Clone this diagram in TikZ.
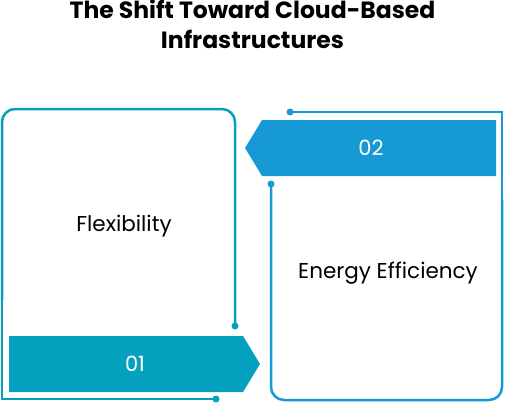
\documentclass[tikz,border=0pt]{standalone}
\usepackage{fontspec}
\setmainfont{Poppins}
\usetikzlibrary{positioning, calc}
\definecolor{tealc}{HTML}{05A0BD}
\definecolor{bluec}{HTML}{1799D6}

\begin{document}
\begin{tikzpicture}[x=1pt, y=-1pt,
  frame/.style={line width=2.5pt, rounded corners=13pt},
  edge/.style={line width=2.5pt},
  dot/.style={circle, fill, inner sep=0pt, minimum size=7pt},
  label/.style={font=\fontsize{21.5}{24}\selectfont},
  num/.style={text=white, font=\fontsize{21}{24}\selectfont}]
\useasboundingbox (0,0) rectangle (505,404);

% Title
\node[anchor=base, font=\bfseries\fontsize{23.5}{28}\selectfont] (title1) at (252.5,18.5) {The Shift Toward Cloud-Based};
\node[anchor=base, font=\bfseries\fontsize{23.5}{28}\selectfont] (title2) at (252.5,48.5) {Infrastructures};

% Left panel
\node[dot, tealc] (d1a) at (235,326) {};
\node[dot, tealc] (d1b) at (216,399) {};
\draw[frame, tealc] (d1a.center) |- (2,109) -- (2,300);
\draw[edge, tealc] (2,290) |- (d1b.center);
\fill[tealc] (9,336) -- (243,336) -- (260,364) -- (243,392) -- (9,392) -- cycle;
\node[num] (n1) at (135,364) {01};
\node[label] (flex) at (124,226) {Flexibility};

% Right panel
\node[dot, bluec] (d2a) at (290,112) {};
\node[dot, bluec] (d2b) at (271,184) {};
\draw[edge, bluec] (d2a.center) -| (502,210);
\draw[frame, bluec] (502,200) |- (271,400) -- (d2b.center);
\fill[bluec] (496,120) -- (262,120) -- (245,148) -- (262,176) -- (496,176) -- cycle;
\node[num] (n2) at (371,148) {02};
\node[label] (energy) at (388,273) {Energy Efficiency};
\end{tikzpicture}
\end{document}
